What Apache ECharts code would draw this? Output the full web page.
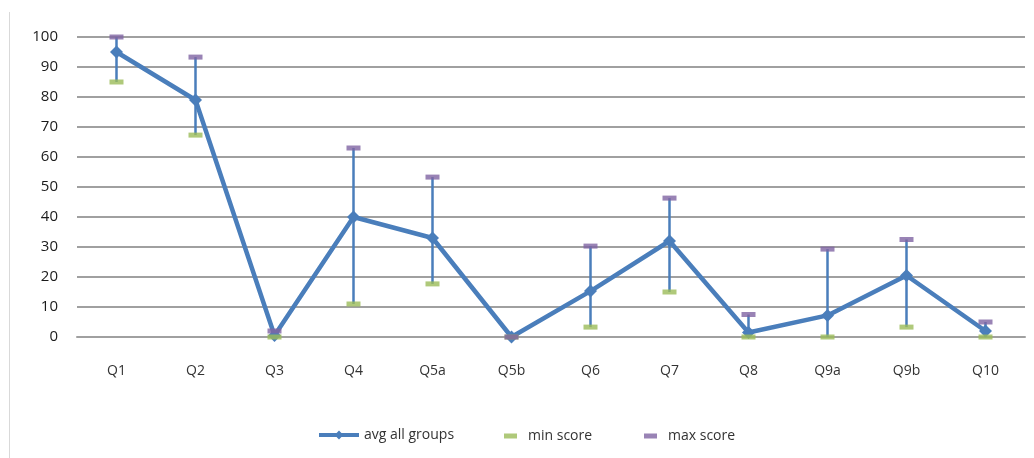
<!DOCTYPE html>
<html>
<head>
<meta charset="utf-8">
<script src="https://cdn.jsdelivr.net/npm/echarts@6/dist/echarts.min.js"></script>
<style>
  html, body { margin: 0; padding: 0; background: #ffffff; }
  #chart { width: 1034px; height: 458px; }
</style>
</head>
<body>
<div id="chart"></div>
<script>
// Questions along the x axis
const categories = ['Q1', 'Q2', 'Q3', 'Q4', 'Q5a', 'Q5b', 'Q6', 'Q7', 'Q8', 'Q9a', 'Q9b', 'Q10'];
// Scores per question
const avgScores = [95, 79, 0.5, 40, 33, 0, 15.3, 32, 1.5, 7.2, 20.5, 2];
const minScores = [85, 67.3, 0, 11, 17.7, 0, 3.3, 15, 0, 0, 3.3, 0];
const maxScores = [100, 93.3, 2, 63, 53.3, 0, 30.3, 46.3, 7.5, 29.3, 32.5, 5];
// Value axis ticks
const yTicks = [0, 10, 20, 30, 40, 50, 60, 70, 80, 90, 100];

const BLUE = '#4a7ebb';
const GREEN = '#9bbb59';
const PURPLE = '#8064a2';
const GRID = '#a0a0a0';
const FONT = '"Open Sans", "Liberation Sans", sans-serif';

const rangeData = categories.map((c, i) => [i, minScores[i], maxScores[i]]);

const chart = echarts.init(document.getElementById('chart'), null, { renderer: 'canvas' });

chart.setOption({
  backgroundColor: '#ffffff',
  animation: false,
  grid: { left: 77, right: 9, top: 37, bottom: 121, containLabel: false },
  xAxis: {
    type: 'category',
    data: categories,
    boundaryGap: true,
    axisLine: { lineStyle: { color: GRID, width: 2 } },
    axisTick: { show: false },
    axisLabel: { color: '#333333', fontFamily: FONT, fontSize: 14, margin: 27 }
  },
  yAxis: {
    type: 'value',
    min: yTicks[0],
    max: yTicks[yTicks.length - 1],
    interval: yTicks[1] - yTicks[0],
    axisLine: { show: false },
    axisTick: { show: false },
    splitLine: { lineStyle: { color: GRID, width: 2 } },
    axisLabel: { color: '#1a1a1a', fontFamily: FONT, fontSize: 15, margin: 19 }
  },
  legend: [
    {
      data: ['avg all groups'],
      left: 312, top: 423,
      itemWidth: 40, itemHeight: 11,
      lineStyle: { width: 4 },
      textStyle: { color: '#333333', fontFamily: FONT, fontSize: 14 }
    },
    {
      data: [{ name: 'min score', icon: 'rect' }],
      left: 499, top: 424,
      itemWidth: 13, itemHeight: 5,
      textStyle: { color: '#333333', fontFamily: FONT, fontSize: 14, padding: [0, 0, 0, 6] }
    },
    {
      data: [{ name: 'max score', icon: 'rect' }],
      left: 639, top: 424,
      itemWidth: 13, itemHeight: 5,
      textStyle: { color: '#333333', fontFamily: FONT, fontSize: 14, padding: [0, 0, 0, 6] }
    }
  ],
  graphic: [
    {
      type: 'line',
      shape: { x1: 9.5, y1: 12, x2: 9.5, y2: 458 },
      style: { stroke: '#d9d9d9', lineWidth: 1 },
      silent: true
    }
  ],
  series: [
    {
      // min-to-max range drawn as a vertical bar through each point
      name: 'range',
      type: 'custom',
      data: rangeData,
      z: 2,
      renderItem: function (params, api) {
        const x = api.value(0);
        const lo = api.coord([x, api.value(1)]);
        const hi = api.coord([x, api.value(2)]);
        return {
          type: 'line',
          shape: { x1: lo[0], y1: lo[1], x2: hi[0], y2: hi[1] },
          style: { stroke: BLUE, lineWidth: 2.5 }
        };
      },
      tooltip: { show: false }
    },
    {
      name: 'avg all groups',
      type: 'line',
      data: avgScores,
      z: 3,
      symbol: 'diamond',
      symbolSize: 13,
      showAllSymbol: true,
      lineStyle: { color: BLUE, width: 4.5 },
      itemStyle: { color: BLUE }
    },
    {
      name: 'min score',
      type: 'scatter',
      data: minScores,
      z: 4,
      symbol: 'rect',
      symbolSize: [14, 5],
      itemStyle: { color: GREEN }
    },
    {
      name: 'max score',
      type: 'scatter',
      data: maxScores,
      z: 5,
      symbol: 'rect',
      symbolSize: [14, 5],
      itemStyle: { color: PURPLE }
    }
  ]
});
</script>
</body>
</html>
